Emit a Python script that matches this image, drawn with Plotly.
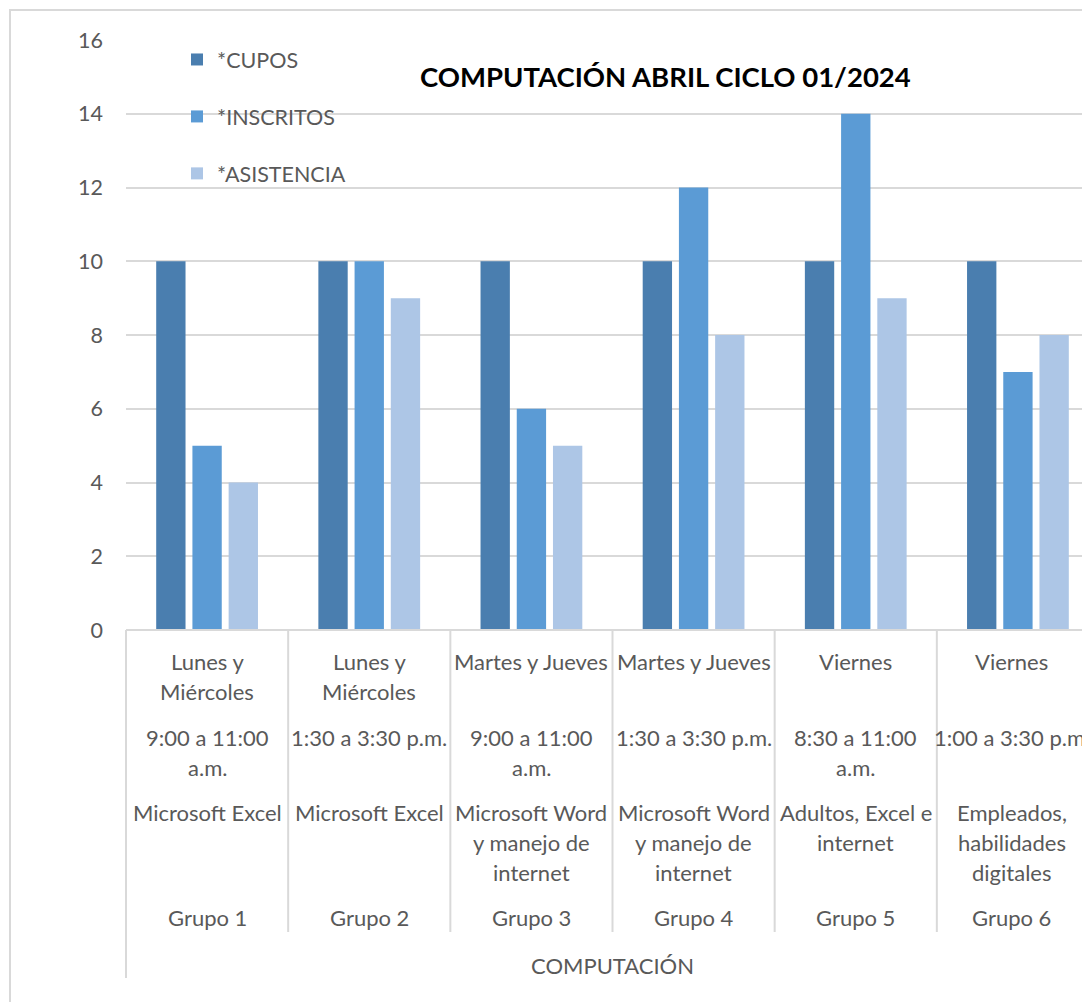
import plotly.graph_objects as go

# data
grupos = ["Grupo 1", "Grupo 2", "Grupo 3", "Grupo 4", "Grupo 5", "Grupo 6"]
dias = ["Lunes y|Miércoles", "Lunes y|Miércoles", "Martes y Jueves", "Martes y Jueves", "Viernes", "Viernes"]
horarios = ["9:00 a 11:00|a.m.", "1:30 a 3:30 p.m.", "9:00 a 11:00|a.m.", "1:30 a 3:30 p.m.",
            "8:30 a 11:00|a.m.", "1:00 a 3:30 p.m."]
cursos = ["Microsoft Excel", "Microsoft Excel", "Microsoft Word|y manejo de|internet",
          "Microsoft Word|y manejo de|internet", "Adultos, Excel e|internet",
          "Empleados,|habilidades|digitales"]
cupos = [10, 10, 10, 10, 10, 10]
inscritos = [5, 10, 6, 12, 14, 7]
asistencia = [4, 9, 5, 8, 9, 8]

FONT = "Lato"
GRAY = "#595959"
LINE = "#d9d9d9"
FS = 22

# pixel layout helpers (screen pixels; the page body adds an 8px offset)
OFF = 8
L, T, B = 126, 40, 630
W, H = 1090 - OFF, 1002 - OFF
PW = 1090 - L
PH = B - T


def py(p):
    return (B - p) / PH


def px(p):
    return (p - L) / PW


x = list(range(len(grupos)))

fig = go.Figure()
for name, vals, col in [("*CUPOS", cupos, "#4a7eaf"),
                        ("*INSCRITOS", inscritos, "#5b9bd5"),
                        ("*ASISTENCIA", asistencia, "#adc6e6")]:
    fig.add_trace(go.Bar(x=x, y=vals, name=name, marker_color=col,
                         marker_line_width=0, legendgroup=name))

fig.update_layout(
    width=W, height=H,
    margin=dict(l=L - OFF, r=0, t=T - OFF, b=H - (B - OFF), autoexpand=False),
    paper_bgcolor="white", plot_bgcolor="white",
    barmode="group", bargap=0.33, bargroupgap=0.19,
    font=dict(family=FONT, size=FS, color=GRAY),
    showlegend=True,
    legend=dict(x=px(177), y=py(39), xanchor="left", yanchor="top",
                bgcolor="rgba(0,0,0,0)", tracegroupgap=26,
                font=dict(family=FONT, size=21.5, color=GRAY),
                itemwidth=30),
    xaxis=dict(range=[-0.5, 5.5 - 9 / 162], showticklabels=False, showgrid=False,
               zeroline=False, showline=False, fixedrange=True),
    yaxis=dict(range=[0, 16], dtick=2, showgrid=True, gridcolor=LINE, gridwidth=1.5,
               zeroline=False, showline=False, ticks="", ticklabelstandoff=22,
               tickfont=dict(family=FONT, size=21.5, color=GRAY)),
)

# title
fig.add_annotation(text="<b>COMPUTACIÓN ABRIL CICLO 01/2024</b>", xref="paper", yref="paper",
                   x=px(665), y=py(76), xanchor="center", yanchor="middle", showarrow=False,
                   font=dict(family=FONT, size=27.5, color="black"))

# category axis: baseline + separators
fig.add_shape(type="line", xref="paper", yref="paper", x0=0, x1=1.02, y0=0, y1=0,
              line=dict(color=LINE, width=2))
fig.add_shape(type="line", xref="paper", yref="paper", x0=0, x1=0, y0=0, y1=py(978),
              line=dict(color=LINE, width=2))
for i in range(1, len(grupos) + 1):
    fig.add_shape(type="line", xref="x", yref="paper", x0=i - 0.5, x1=i - 0.5,
                  y0=0, y1=py(932), line=dict(color=LINE, width=2))

# multi-level labels, one line per annotation
step = 30
for i in x:
    shift = -6 if i == len(grupos) - 1 else 0  # last column is cut by the edge
    for texto, top in [(dias[i], 661), (horarios[i], 737), (cursos[i], 812), (grupos[i], 917)]:
        for k, linea in enumerate(texto.split("|")):
            fig.add_annotation(text=linea, xref="x", yref="paper", x=i, y=py(top + k * step),
                               showarrow=False, xanchor="center", yanchor="middle", xshift=shift,
                               font=dict(family=FONT, size=FS, color=GRAY))
fig.add_annotation(text="COMPUTACIÓN", xref="x", yref="paper", x=2.5, y=py(965),
                   showarrow=False, xanchor="center", yanchor="middle",
                   font=dict(family=FONT, size=FS, color=GRAY))

# chart border
fig.add_shape(type="rect", xref="paper", yref="paper", x0=px(10), x1=px(1100),
              y0=py(1010), y1=py(10), line=dict(color=LINE, width=2), layer="below")

fig.write_html("out.html")
